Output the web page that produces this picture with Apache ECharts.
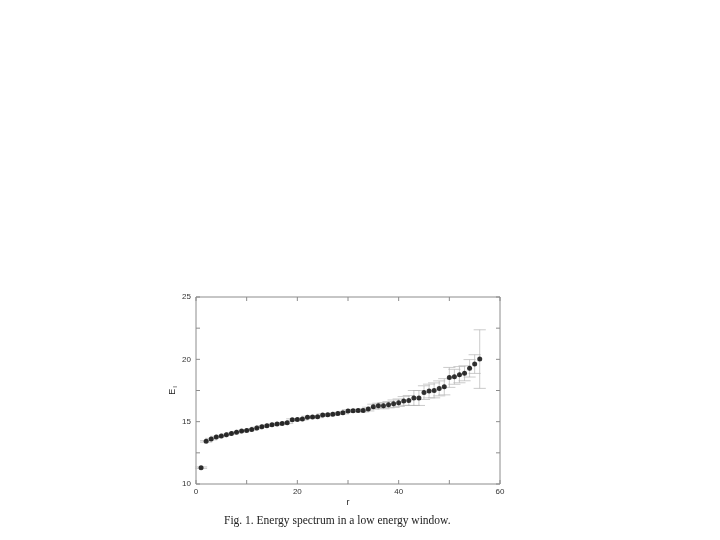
<!DOCTYPE html>
<html>
<head>
<meta charset="utf-8">
<script src="https://cdn.jsdelivr.net/npm/echarts@6/dist/echarts.min.js"></script>
<style>
  body { margin: 0; background: #fff; }
  #chart { width: 720px; height: 540px; }
</style>
</head>
<body>
<div id="chart"></div>
<script>
  // level index r and energy E_I
  var rValues = [1, 2, 3, 4, 5, 6, 7, 8, 9, 10, 11, 12, 13, 14, 15, 16, 17, 18, 19, 20,
    21, 22, 23, 24, 25, 26, 27, 28, 29, 30, 31, 32, 33, 34, 35, 36, 37, 38, 39, 40,
    41, 42, 43, 44, 45, 46, 47, 48, 49, 50, 51, 52, 53, 54, 55, 56];
  var energy = [11.31, 13.42, 13.6, 13.77, 13.85, 13.95, 14.06, 14.15, 14.25, 14.3,
    14.38, 14.49, 14.6, 14.68, 14.75, 14.81, 14.86, 14.92, 15.15, 15.17,
    15.22, 15.36, 15.38, 15.4, 15.53, 15.55, 15.59, 15.66, 15.72, 15.86,
    15.88, 15.9, 15.9, 16.01, 16.2, 16.28, 16.28, 16.36, 16.44, 16.52,
    16.66, 16.7, 16.9, 16.9, 17.33, 17.46, 17.51, 17.67, 17.8, 18.55,
    18.6, 18.77, 18.88, 19.28, 19.62, 20.02];
  var errors = [0.06, 0.06, 0.06, 0.06, 0.06, 0.06, 0.06, 0.06, 0.06, 0.06,
    0.07, 0.07, 0.07, 0.07, 0.07, 0.07, 0.07, 0.07, 0.08, 0.08,
    0.08, 0.08, 0.08, 0.08, 0.09, 0.09, 0.09, 0.09, 0.1, 0.1,
    0.1, 0.1, 0.12, 0.15, 0.2, 0.2, 0.25, 0.25, 0.3, 0.3,
    0.35, 0.4, 0.6, 0.6, 0.55, 0.55, 0.6, 0.6, 0.65, 0.8,
    0.6, 0.65, 0.6, 0.7, 0.75, 2.35];
  var xLabels = [0, 20, 40, 60];
  var yLabels = [10, 15, 20, 25];
  var xTickMarks = [0, 10, 20, 30, 40, 50, 60];
  var yTickMarks = [10, 12.5, 15, 17.5, 20, 22.5, 25];

  var chart = echarts.init(document.getElementById('chart'));

  var points = [];
  var bars = [];
  for (var i = 0; i < rValues.length; i++) {
    points.push([rValues[i], energy[i]]);
    bars.push([rValues[i], energy[i] - errors[i], energy[i] + errors[i]]);
  }

  // inward tick marks on all four sides: [x, y, side]  0 bottom, 1 top, 2 left, 3 right
  var xMin = 0, xMax = 60, yMin = 10, yMax = 25;
  var tickData = [];
  xTickMarks.forEach(function (v) {
    tickData.push([v, yMin, 0]);
    tickData.push([v, yMax, 1]);
  });
  yTickMarks.forEach(function (v) {
    tickData.push([xMin, v, 2]);
    tickData.push([xMax, v, 3]);
  });

  var frame = '#8c8c8c';
  var labelStyle = { color: '#333', fontSize: 8, fontFamily: 'Liberation Sans' };

  function errorBar(params, api) {
    var r = api.value(0);
    var lo = api.coord([r, api.value(1)]);
    var hi = api.coord([r, api.value(2)]);
    var half = (api.coord([r + 1, 0])[0] - api.coord([r, 0])[0]) * 1.2;
    var style = { stroke: '#b4b4b4', lineWidth: 0.7 };
    return {
      type: 'group',
      children: [
        { type: 'line', shape: { x1: lo[0], y1: lo[1], x2: hi[0], y2: hi[1] }, style: style },
        { type: 'line', shape: { x1: lo[0] - half, y1: lo[1], x2: lo[0] + half, y2: lo[1] }, style: style },
        { type: 'line', shape: { x1: hi[0] - half, y1: hi[1], x2: hi[0] + half, y2: hi[1] }, style: style }
      ]
    };
  }

  function tickMark(params, api) {
    var p = api.coord([api.value(0), api.value(1)]);
    var side = api.value(2);
    var len = 4;
    var dx = side === 2 ? len : side === 3 ? -len : 0;
    var dy = side === 0 ? -len : side === 1 ? len : 0;
    return {
      type: 'line',
      shape: { x1: p[0], y1: p[1], x2: p[0] + dx, y2: p[1] + dy },
      style: { stroke: frame, lineWidth: 1 }
    };
  }

  var option = {
    backgroundColor: '#fff',
    animation: false,
    grid: { left: 196, right: 220, top: 297, bottom: 56, show: true, borderColor: frame, borderWidth: 1, backgroundColor: 'transparent' },
    xAxis: {
      type: 'value', min: xMin, max: xMax, interval: 10,
      name: 'r', nameLocation: 'middle', nameGap: 14,
      nameTextStyle: { color: '#222', fontSize: 9, fontFamily: 'Liberation Sans' },
      axisLine: { show: false },
      axisTick: { show: false },
      axisLabel: Object.assign({ margin: 4, formatter: function (v) { return xLabels.indexOf(v) >= 0 ? v : ''; } }, labelStyle),
      splitLine: { show: false }
    },
    yAxis: {
      type: 'value', min: yMin, max: yMax, interval: 2.5,
      name: '{e|E}{s|I}', nameLocation: 'middle', nameGap: 18,
      nameTextStyle: {
        rich: {
          e: { color: '#222', fontSize: 9, fontFamily: 'Liberation Sans' },
          s: { color: '#222', fontSize: 6, fontFamily: 'Liberation Sans', verticalAlign: 'bottom', padding: [4, 0, 0, 1] }
        }
      },
      axisLine: { show: false },
      axisTick: { show: false },
      axisLabel: Object.assign({ margin: 5, formatter: function (v) { return yLabels.indexOf(v) >= 0 ? v : ''; } }, labelStyle),
      splitLine: { show: false }
    },
    graphic: [
      {
        type: 'text', left: 224, top: 515,
        style: {
          text: 'Fig. 1. Energy spectrum in a low energy window.',
          fill: '#222', fontSize: 11.5, fontFamily: 'Liberation Serif'
        }
      }
    ],
    series: [
      {
        type: 'custom',
        renderItem: tickMark,
        data: tickData,
        silent: true,
        z: 1
      },
      {
        type: 'custom',
        renderItem: errorBar,
        data: bars,
        z: 2
      },
      {
        type: 'scatter',
        data: points,
        symbol: 'circle',
        symbolSize: 5,
        itemStyle: { color: '#000' },
        z: 3
      }
    ]
  };

  chart.setOption(option);
</script>
</body>
</html>
